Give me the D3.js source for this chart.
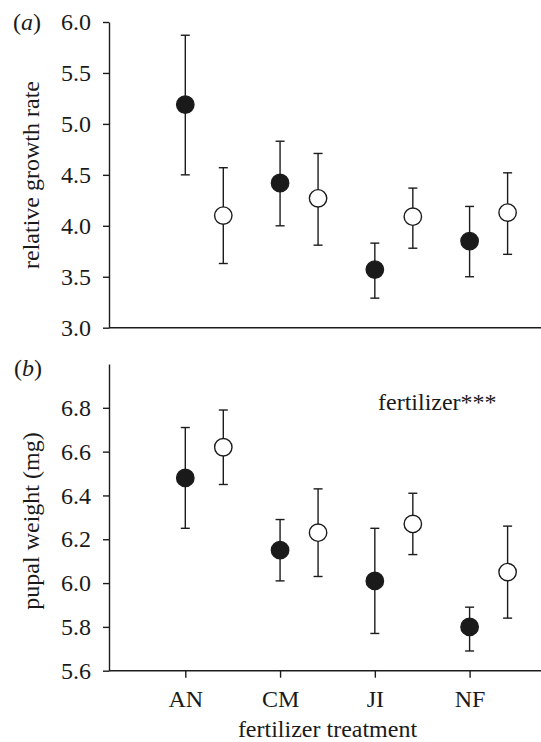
<!DOCTYPE html>
<html>
<head>
<meta charset="utf-8">
<script src="https://cdn.jsdelivr.net/npm/d3@7"></script>
<style>
  html, body { margin: 0; padding: 0; background: #fff; }
  svg { display: block; }
  svg text { font-family: "Liberation Serif", "Times New Roman", Tinos, Times, serif !important; fill: #1a1a1a; }
</style>
</head>
<body>
<svg id="chart" width="541" height="742"></svg>
<script>
// Fertilizer treatments on the x axis
const categories = ["AN", "CM", "JI", "NF"];

// (a) relative growth rate: means and error-bar limits, filled and open series
const rgrFilled   = [5.19, 4.42, 3.57, 3.85];
const rgrFilledLo = [4.50, 4.00, 3.29, 3.50];
const rgrFilledHi = [5.87, 4.83, 3.83, 4.19];
const rgrOpen     = [4.10, 4.27, 4.09, 4.13];
const rgrOpenLo   = [3.63, 3.81, 3.78, 3.72];
const rgrOpenHi   = [4.57, 4.71, 4.37, 4.52];

// (b) pupal weight (mg): means and error-bar limits
const pupFilled   = [6.48, 6.15, 6.01, 5.80];
const pupFilledLo = [6.25, 6.01, 5.77, 5.69];
const pupFilledHi = [6.71, 6.29, 6.25, 5.89];
const pupOpen     = [6.62, 6.23, 6.27, 6.05];
const pupOpenLo   = [6.45, 6.03, 6.13, 5.84];
const pupOpenHi   = [6.79, 6.43, 6.41, 6.26];

// Tick values
const rgrTicks = [3.0, 3.5, 4.0, 4.5, 5.0, 5.5, 6.0];
const pupTicks = [5.6, 5.8, 6.0, 6.2, 6.4, 6.6, 6.8];

const INK = "#1c1c1c";
const LW = 1.4;
const FS = 24;

const svg = d3.select("#chart");

// Layout
const axisX = 109, rightX = 541;
const x = d3.scalePoint().domain(categories).range([185.3, 469.6]);
const openShift = 38;

const yA = d3.scaleLinear().domain([3.0, 6.0]).range([327.7, 22]);
const yB = d3.scaleLinear().domain([5.6, 7.0]).range([670.7, 364]);

function build(series) {
  return categories.map((c, i) => ({ c, v: series[0][i], lo: series[1][i], hi: series[2][i] }));
}

function panel(y, ticks, filled, open, withXTicks) {
  const g = svg.append("g");

  // y axis
  const ay = g.append("g")
    .attr("transform", `translate(${axisX},0)`)
    .call(d3.axisLeft(y).tickValues(ticks).tickFormat(d3.format(".1f"))
      .tickSize(6).tickSizeOuter(0).tickPadding(12));
  ay.attr("font-family", null).attr("font-size", FS);
  ay.select(".domain").attr("stroke", INK).attr("stroke-width", LW);
  ay.selectAll(".tick line").attr("stroke", INK).attr("stroke-width", LW);
  ay.selectAll(".tick text").attr("fill", "#1a1a1a");

  // x baseline
  const yBase = y.range()[0];
  g.append("line")
    .attr("x1", axisX).attr("x2", rightX)
    .attr("y1", yBase).attr("y2", yBase)
    .attr("stroke", INK).attr("stroke-width", LW);

  if (withXTicks) {
    const ax = g.append("g")
      .attr("transform", `translate(0,${yBase})`)
      .call(d3.axisBottom(x).tickSize(7).tickSizeOuter(0).tickPadding(12));
    ax.attr("font-family", null).attr("font-size", FS);
    ax.select(".domain").remove();
    ax.selectAll(".tick line").attr("stroke", INK).attr("stroke-width", LW);
    ax.selectAll(".tick text").attr("fill", "#1a1a1a");
  }

  const groups = [
    { data: build(filled), dx: 0, fill: "#1a1a1a" },
    { data: build(open), dx: openShift, fill: "#ffffff" }
  ];

  groups.forEach(s => {
    const eb = g.append("g");
    s.data.forEach(d => {
      const cx = x(d.c) + s.dx;
      eb.append("line")
        .attr("x1", cx).attr("x2", cx)
        .attr("y1", y(d.hi)).attr("y2", y(d.lo))
        .attr("stroke", INK).attr("stroke-width", LW);
      [d.hi, d.lo].forEach(v => {
        eb.append("line")
          .attr("x1", cx - 4.5).attr("x2", cx + 4.5)
          .attr("y1", y(v)).attr("y2", y(v))
          .attr("stroke", INK).attr("stroke-width", LW);
      });
    });
    g.append("g").selectAll("circle")
      .data(s.data).join("circle")
      .attr("cx", d => x(d.c) + s.dx)
      .attr("cy", d => y(d.v))
      .attr("r", 8.7)
      .attr("fill", s.fill)
      .attr("stroke", INK)
      .attr("stroke-width", LW);
  });
  return g;
}

panel(yA, rgrTicks, [rgrFilled, rgrFilledLo, rgrFilledHi], [rgrOpen, rgrOpenLo, rgrOpenHi], false);
panel(yB, pupTicks, [pupFilled, pupFilledLo, pupFilledHi], [pupOpen, pupOpenLo, pupOpenHi], true);

// Panel letters
function panelLetter(letter, px, py) {
  const t = svg.append("text").attr("x", px).attr("y", py).attr("font-size", FS);
  t.append("tspan").text("(");
  t.append("tspan").attr("font-style", "italic").text(letter);
  t.append("tspan").text(")");
}
panelLetter("a", 13, 30);
panelLetter("b", 14, 376);

// Axis titles
svg.append("text")
  .attr("transform", `translate(39,175) rotate(-90)`)
  .attr("text-anchor", "middle")
  .attr("font-size", FS)
  .text("relative growth rate");

svg.append("text")
  .attr("transform", `translate(39,521) rotate(-90)`)
  .attr("text-anchor", "middle")
  .attr("font-size", FS)
  .text("pupal weight (mg)");

svg.append("text")
  .attr("x", 327.5).attr("y", 736.5)
  .attr("text-anchor", "middle")
  .attr("font-size", FS)
  .text("fertilizer treatment");

// Significance annotation
svg.append("text")
  .attr("x", 378).attr("y", 409.5)
  .attr("font-size", FS)
  .text("fertilizer***");
</script>
</body>
</html>
